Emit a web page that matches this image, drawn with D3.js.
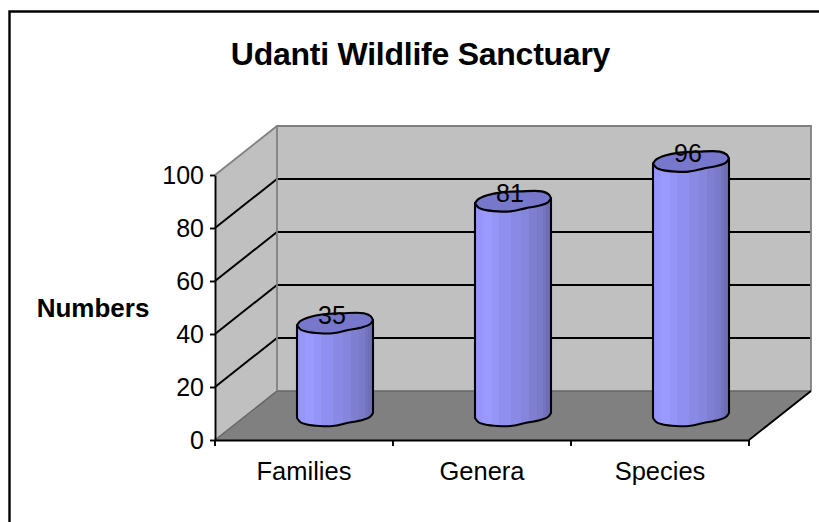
<!DOCTYPE html>
<html><head><meta charset="utf-8">
<script src="https://cdn.jsdelivr.net/npm/d3@7"></script>
<style>html,body{margin:0;padding:0;background:#fff}svg{display:block}text{font-family:"Liberation Sans",Arial,sans-serif;fill:#000}</style>
</head><body><svg id="c" width="819" height="522"></svg>
<script>
const categories = ["Families","Genera","Species"];
const values = [35,81,96];
const yTicks = [0,20,40,60,80,100];
const chartTitle = "Udanti Wildlife Sanctuary";
const yTitle = "Numbers";
const font = '"Liberation Sans",Arial,sans-serif';

const svg = d3.select("#c");
const line = d3.line();
svg.append("path").attr("d",line([[9.5,522],[9.5,11.5],[819,11.5]])).attr("fill","none").attr("stroke","#000").attr("stroke-width",2.4);

const y = d3.scaleLinear().domain([0,100]).range([440,175]);
const x = d3.scaleBand().domain(categories).range([215,749]);
const dx = 62, dy = -49;
const L = 215, R = 749, B = y(0), T = y(100);

svg.append("rect").attr("x",L+dx).attr("y",T+dy).attr("width",R-L).attr("height",B-T).attr("fill","#c0c0c0");
svg.append("path").attr("d",line([[L,B],[L,T],[L+dx,T+dy],[L+dx,B+dy]])).attr("fill","#c0c0c0");
svg.append("path").attr("d",line([[L,B],[R,B],[R+dx,B+dy],[L+dx,B+dy]])).attr("fill","#808080");
yTicks.slice(1,-1).forEach(t=>{
  svg.append("path").attr("d",line([[L,y(t)],[L+dx,y(t)+dy],[R+dx,y(t)+dy]])).attr("fill","none").attr("stroke","#000").attr("stroke-width",2);
});
svg.append("path").attr("d",line([[L,T],[L+dx,T+dy],[R+dx,T+dy],[R+dx,B+dy]])).attr("fill","none").attr("stroke","#808080").attr("stroke-width",1.8);
svg.append("path").attr("d",line([[L,B],[L+dx,B+dy],[R+dx,B+dy]])).attr("fill","none").attr("stroke","#666").attr("stroke-width",1.5);
svg.append("path").attr("d",line([[L+dx,T+dy],[L+dx,B+dy]])).attr("fill","none").attr("stroke","#808080").attr("stroke-width",1.8);

// stepped banding of the cylinder sides
const bandEdges = [0,.11,.22,.32,.48,.6,.71,.81,.89,.94,1];
const bandColors = ["#9696fa","#9999ff","#9595f8","#8f8ff0","#8a8ae6","#8585dc","#7f7fd2","#7a7ac8","#7474be","#6e6eb4"];
const grad = svg.append("defs").append("linearGradient").attr("id","cyl");
bandColors.forEach((c,i)=>{
  grad.append("stop").attr("offset",bandEdges[i]).attr("stop-color",c);
  grad.append("stop").attr("offset",bandEdges[i+1]).attr("stop-color",c);
});

const barW = 76, cyOff = -22;
const frontEdge = [[0,0],[.05,4.5],[.13,6.5],[.3,8],[.47,8],[.66,5],[.86,2],[.96,-1],[1,-5]];
const backEdge = [[1,-5],[.97,-9],[.88,-12],[.6,-12],[.35,-11],[.16,-8],[.04,-4],[0,0]];
const smooth = d3.line().curve(d3.curveCatmullRom.alpha(.5));
categories.forEach((c,i)=>{
  const cx = x(c)+x.bandwidth()/2 + 31;
  const x0 = cx-barW/2, x1 = cx+barW/2;
  const base = B + cyOff;
  const top = y(values[i]) + cyOff;
  const at = (e,yy)=>e.map(p=>[x0+p[0]*barW,yy+p[1]]);
  const bottomPath = smooth(at(frontEdge,base));
  const topFront = smooth(at(frontEdge,top));
  const topBack = smooth(at(backEdge,top));
  svg.append("path").attr("d",`M${x0},${top}L${x0},${base}${bottomPath.replace(/^M[^C]*/,"")}L${x1},${top-5}Z`)
    .attr("fill","url(#cyl)").attr("stroke","#000").attr("stroke-width",2.1).attr("stroke-linejoin","round");
  svg.append("path").attr("d",topFront+topBack.replace(/^M[^C]*/,"")+"Z")
    .attr("fill","#7777cc").attr("stroke","#000").attr("stroke-width",2.1).attr("stroke-linejoin","round");
  svg.append("text").attr("x",cx-3).attr("y",top-1.5).attr("text-anchor","middle").attr("font-size",25).text(values[i]);
});

const yAxisG = svg.append("g").attr("transform",`translate(${L},0)`).call(d3.axisLeft(y).tickValues(yTicks).tickSize(5).tickSizeOuter(0).tickPadding(6));
yAxisG.selectAll("path,line").attr("stroke","#000").attr("stroke-width",1.9);
yAxisG.selectAll("text").attr("font-size",25).attr("font-family",font);
const xAxisG = svg.append("g").attr("transform",`translate(0,${B})`).call(d3.axisBottom(x).tickSize(0).tickPadding(21.5));
xAxisG.selectAll("path").attr("stroke","#000").attr("stroke-width",2);
xAxisG.selectAll("text").attr("font-size",25.5).attr("font-family",font);
d3.range(categories.length+1).forEach(i=>svg.append("line").attr("x1",L+i*x.step()).attr("x2",L+i*x.step()).attr("y1",B).attr("y2",B+6).attr("stroke","#000").attr("stroke-width",1.9));
svg.append("line").attr("x1",R).attr("y1",B).attr("x2",R+dx).attr("y2",B+dy).attr("stroke","#000").attr("stroke-width",1.9);

svg.append("text").attr("x",420.5).attr("y",65).attr("text-anchor","middle").attr("font-size",32).attr("font-weight","bold").attr("letter-spacing",-0.25).text(chartTitle);
svg.append("text").attr("x",93).attr("y",317).attr("text-anchor","middle").attr("font-size",26).attr("font-weight","bold").text(yTitle);
</script></body></html>
